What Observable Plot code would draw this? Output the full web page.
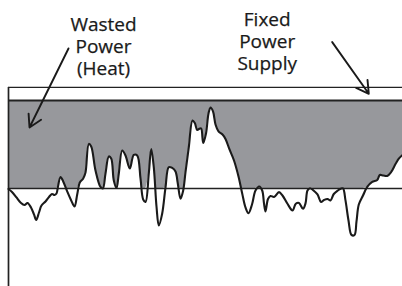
<!DOCTYPE html>
<html>
<head>
<meta charset="utf-8">
<script src="https://cdn.jsdelivr.net/npm/d3@7"></script>
<script src="https://cdn.jsdelivr.net/npm/@observablehq/plot@0.6"></script>
<style>
  html, body { margin: 0; padding: 0; background: #fff; }
  svg { display: block; }
</style>
</head>
<body>
<script>
// Time axis (arbitrary units) and demanded power (0 = baseline, 100 = fixed supply)
const time = [0, 3.5, 8, 12, 16, 19, 22.5, 25.5, 27.7, 30.5, 33, 37, 40.5, 43.5, 46, 48, 49.5, 52, 54.7, 58.7,
  62.7, 66, 68.7, 71.3, 74.7, 77, 80.3, 82.7, 87, 92, 94.3, 97, 100.3, 102.7, 105.3, 108, 110.3, 113.7, 117, 121.3,
  125.3, 128.7, 132, 134.7, 137, 140.3, 142.7, 145.3, 148, 150.3, 153.7, 157, 160.3, 163.7, 167, 169.3, 172, 174.7, 177, 180.3,
  184, 186.3, 188.7, 191.3, 192.7, 194.7, 197.5, 200, 202, 204.5, 207, 210, 214, 217, 221, 225.5, 230, 233.7, 237, 240,
  243.5, 247, 250.7, 253.7, 255.5, 257, 259.5, 262, 265.5, 270.5, 274, 279, 284, 287.3, 290.5, 294.5, 297, 299, 301.5, 305,
  309, 312.5, 315.5, 319, 322, 325.3, 329.3, 332.3, 334.5, 337, 340, 343, 346, 348, 350.3, 354.5, 358.7, 363.7, 368.7, 371.3,
  374.7, 378.7, 382.7, 387, 390.5, 394];
const power = [-0.6, -4, -10.2, -15.9, -18.8, -16.5, -21.6, -29.5, -35.8, -27.3, -19.3, -14.8, -9.7, -6.3, -7.4, -5.7, 2.3, 13.1, 8, -3.4,
  -13.6, -20.5, -6.8, 6.8, 11.4, 18.2, 50.6, 47.7, 20.5, 1.7, 0, 17, 36.4, 34.1, 9.1, 0.6, 17, 43.2, 37.5, 22.7,
  38.1, 37.5, 11.4, -12.5, -15.3, 17, 44.9, 23.9, -20.5, -42, -28.4, 1.1, 24.2, 23.3, 19.3, 5.7, -11.7, -2.3, 18.5, 46.9,
  77.3, 74.4, 66.5, 68.2, 68.2, 51.7, 62.5, 85.2, 92, 87.5, 72.7, 64.8, 61.4, 56.3, 44.3, 31.8, 13.6, -5.7, -21.6, -28.1,
  -18.2, -2.3, 2.3, -2.3, -17, -26.1, -11.9, -8.5, -9.7, -4.2, -8, -17.4, -25, -17.4, -16.5, -23.1, -17, -2.3, 0.3, -2.3,
  -6.8, -15.3, -13.1, -11.9, -13.6, -6.3, -2.3, -0.3, 0, -13.6, -36.4, -52.8, -52.8, -37.5, -18.2, -8, 1.7, 7.4, 9.7, 15.3,
  14.8, 14.2, 18.8, 27.8, 34.1, 38.1];

const supplyLevel = 100;
const baseLevel = 0;
const frameTop = 114.8;
const frameBottom = -111.4;

const labels = [
  {text: "Wasted\nPower\n(Heat)", t: 95, v: 128.4, anchor: "middle"},
  {text: "Fixed\nPower\nSupply", t: 258.7, v: 134.1, anchor: "start"}
];
const arrows = [
  {t1: 60, v1: 159.1, t2: 21, v2: 69.3},
  {t1: 323.7, v1: 166.3, t2: 360.3, v2: 107.6}
];

const data = time.map((t, i) => ({t, v: power[i]}));

const chart = Plot.plot({
  width: 402,
  height: 286,
  marginLeft: 8,
  marginRight: 0,
  marginTop: 0,
  marginBottom: 0,
  x: {domain: [0, 394], axis: null},
  y: {domain: [frameBottom, 213.6], axis: null},
  style: {background: "white", fontFamily: "'Open Sans', sans-serif", fontSize: "19px", color: "#1a1a1a", overflow: "visible"},
  marks: [
    Plot.areaY(data, {x: "t", y1: d => Math.max(d.v, baseLevel), y2: supplyLevel, fill: "#97989c", curve: "catmull-rom"}),
    Plot.ruleY([frameTop], {stroke: "#222", strokeWidth: 1.3}),
    Plot.ruleY([supplyLevel], {stroke: "#222", strokeWidth: 2}),
    Plot.ruleY([baseLevel], {stroke: "#222", strokeWidth: 1.5}),
    Plot.ruleX([0], {y1: frameBottom, y2: frameTop, stroke: "#222", strokeWidth: 1.7}),
    Plot.line(data, {x: "t", y: "v", stroke: "#1a1a1a", strokeWidth: 2.1, curve: "catmull-rom"}),
    Plot.text(labels, {x: "t", y: "v", text: "text", textAnchor: "anchor", lineAnchor: "bottom", lineHeight: 1.18, fill: "#1a1a1a", stroke: "#1a1a1a", strokeWidth: 0.25}),
    Plot.arrow(arrows, {x1: "t1", y1: "v1", x2: "t2", y2: "v2", stroke: "#1a1a1a", strokeWidth: 1.9, headLength: 11})
  ]
});
document.body.appendChild(chart);
</script>
</body>
</html>
